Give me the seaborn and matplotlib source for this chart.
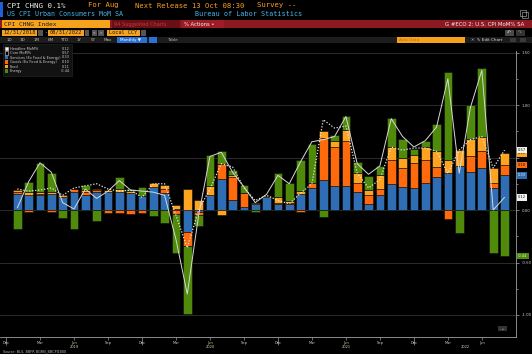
import numpy as np
import pandas as pd
import matplotlib
matplotlib.use("Agg")
import matplotlib.pyplot as plt
from matplotlib.patches import Rectangle
import matplotlib.transforms as mtrans
import seaborn as sns

# monthly contributions to CPI MoM%, Jan 2019 .. Aug 2022
months = pd.date_range("2019-01-01", "2022-08-01", freq="MS")

services = [0.15, 0.14, 0.14, 0.15, 0.12, 0.17, 0.14, 0.17, 0.17, 0.17, 0.16, 0.13,
            0.22, 0.16, 0.01, -0.21, -0.02, 0.14, 0.30, 0.10, 0.03, 0.06, 0.12, 0.06,
            0.06, 0.15, 0.21, 0.29, 0.23, 0.23, 0.17, 0.06, 0.14, 0.25, 0.22, 0.21,
            0.26, 0.31, 0.35, 0.42, 0.36, 0.40, 0.21, 0.33]
goods = [0.02, -0.02, 0.01, -0.02, 0.00, 0.03, 0.03, 0.02, -0.03, -0.03, -0.04, -0.03,
         0.00, 0.04, -0.04, -0.13, -0.03, 0.00, 0.14, 0.21, 0.13, 0.00, 0.00, 0.01,
         0.01, -0.02, 0.05, 0.40, 0.37, 0.43, 0.09, 0.08, 0.06, 0.23, 0.18, 0.24,
         0.22, 0.10, -0.09, 0.00, 0.15, 0.16, 0.05, 0.10]
food = [0.02, 0.03, 0.02, 0.02, 0.02, 0.00, 0.02, 0.01, 0.02, 0.03, 0.02, 0.00,
        0.04, 0.04, 0.04, 0.20, 0.10, 0.09, -0.05, 0.02, 0.00, 0.01, 0.01, 0.05,
        0.02, 0.03, 0.00, 0.06, 0.06, 0.10, 0.09, 0.05, 0.13, 0.12, 0.10, 0.07,
        0.12, 0.15, 0.13, 0.15, 0.17, 0.14, 0.14, 0.11]
energy = [-0.18, 0.10, 0.28, 0.18, -0.08, -0.18, 0.05, -0.10, 0.00, 0.11, 0.02, 0.09,
          -0.06, -0.12, -0.37, -0.65, -0.10, 0.29, 0.12, 0.05, 0.08, -0.02, 0.00, 0.23,
          0.17, 0.30, 0.37, -0.07, 0.05, 0.14, 0.11, 0.13, 0.09, 0.28, 0.18, 0.06,
          0.06, 0.26, 0.83, -0.22, 0.32, 0.65, -0.41, -0.44]
headline = [0.02, 0.27, 0.45, 0.36, 0.07, 0.01, 0.20, 0.11, 0.18, 0.28, 0.19, 0.18,
            0.17, 0.14, -0.28, -0.80, -0.05, 0.51, 0.55, 0.36, 0.22, 0.07, 0.15, 0.33,
            0.25, 0.46, 0.65, 0.67, 0.70, 0.89, 0.44, 0.34, 0.42, 0.87, 0.70, 0.60,
            0.66, 0.79, 1.25, 0.35, 0.98, 1.33, 0.00, 0.12]
core = [0.20, 0.18, 0.19, 0.21, 0.14, 0.21, 0.23, 0.25, 0.20, 0.18, 0.19, 0.12,
        0.25, 0.25, -0.05, -0.36, 0.00, 0.20, 0.44, 0.41, 0.21, 0.09, 0.14, 0.09,
        0.06, 0.16, 0.25, 0.86, 0.78, 0.80, 0.35, 0.21, 0.29, 0.60, 0.57, 0.59,
        0.59, 0.56, 0.35, 0.57, 0.67, 0.70, 0.40, 0.57]

comp_names = ["Services (Ex Food & Energy)", "Goods (Ex Food & Energy)", "Food", "Energy"]
comp_colors = ["#2f6eb5", "#ff6a0d", "#ffa420", "#4f8a0b"]
y_ticks = [-1.0, -0.5, 0.0, 0.5, 1.0, 1.5]
y_ticklabels = ["-1.00", "-0.50", "0.00", "", "1.00", "1.50"]

W, H = 532, 354
sns.set_theme(style="dark", rc={"figure.facecolor": "black", "axes.facecolor": "black",
                                "savefig.facecolor": "black"})
plt.rcParams["font.family"] = ["DejaVu Sans"]

fig = plt.figure(figsize=(W / 100, H / 100), dpi=100)


def fx(px):
    return px / W


def fy(py):
    return 1 - py / H


def box(x0, y0, x1, y1, color, ec="none"):
    fig.add_artist(Rectangle((fx(x0), fy(y1)), (x1 - x0) / W, (y1 - y0) / H,
                             transform=fig.transFigure, facecolor=color,
                             edgecolor=ec, lw=0.4))


def txt(x, y, s, color, size, mono=True, **kw):
    fam = "DejaVu Sans Mono" if mono else "DejaVu Sans"
    fig.text(fx(x), fy(y), s, color=color, fontsize=size, va="center",
             family=fam, **kw)


# ---- header ----
box(0, 2, 3, 17, "#1f5fd8")
txt(7, 5.5, "CPI CHNG 0.1%", "#f0f0f0", 5.4)
txt(88, 5.5, "For Aug", "#ff9f1c", 5.2)
txt(135, 5.5, "Next Release 13 Oct 08:30", "#ff9f1c", 5.2)
txt(257, 5.5, "Survey --", "#ff9f1c", 5.2)
txt(7, 14, "US CPI Urban Consumers MoM SA", "#45b6ec", 4.8)
txt(195, 14, "Bureau of Labor Statistics", "#45b6ec", 4.9)
box(520, 10, 526, 16, "none", ec="#bbbbbb")
box(522, 12, 528, 18, "none", ec="#bbbbbb")

box(0, 19.5, 532, 28.3, "#8c1822")
box(2, 20, 110, 28.3, "#f7a21b")
txt(4, 24.2, "CPI CHNG Index", "#1a1a1a", 4.5)
box(112, 20, 180, 28.3, "#6a0f15")
txt(114, 24.2, "94 Suggested Charts", "#c0393f", 3.6, mono=False)
box(182, 20, 224, 28.3, "#9e1c26")
txt(184, 24.2, "% Actions \u2022", "#f0f0f0", 3.8, mono=False)
txt(524, 24.2, "G #ECO 2: U.S. CPI MoM% SA", "#f0f0f0", 3.9, mono=False, ha="right")

box(2, 29.5, 37, 35.5, "#f7a21b")
txt(3.5, 32.5, "12/31/2018", "#1a1a1a", 3.9)
box(38, 29.5, 43, 35.5, "#555555")
txt(44.5, 32.5, "-", "#cccccc", 3.5)
box(48, 29.5, 84, 35.5, "#f7a21b")
txt(49.5, 32.5, "08/31/2022", "#1a1a1a", 3.9)
box(85, 29.5, 89, 35.5, "#555555")
box(92, 29.5, 97, 35.5, "#555555")
box(98, 29.5, 104, 35.5, "#555555")
txt(93, 32.5, "<", "#dddddd", 3.0)
txt(99.5, 32.5, ">", "#dddddd", 3.0)
box(107, 29.5, 140, 35.5, "#f7a21b")
txt(109, 32.5, "Local CCY", "#1a1a1a", 3.8)
box(141, 29.5, 146, 35.5, "#555555")
box(505, 29.5, 514, 35.5, "#4a4a4a")
box(516, 29.5, 525, 35.5, "#333333")
txt(506.5, 32.5, "\u21b6", "#dddddd", 3.3, mono=False)
txt(517.5, 32.5, "\u21b7", "#888888", 3.3, mono=False)

box(0, 36.7, 532, 42.8, "#1c1c1c")
for lab, xp in zip(["1D", "3D", "1M", "6M", "YTD", "1Y", "5Y", "Max"],
                   [7, 20, 34, 48, 60, 77, 91, 104]):
    txt(xp, 39.8, lab, "#bbbbbb", 3.0, mono=False)
box(117, 37, 147, 42.5, "#2a6fd6")
txt(119.5, 39.8, "Monthly \u25bc", "#ffffff", 3.0, mono=False)
box(149, 37, 157, 42.5, "#2a6fd6")
txt(167, 39.8, "Table", "#bbbbbb", 3.0, mono=False)
box(397, 37, 465, 42.5, "#f7a21b")
txt(399, 39.8, "Add Data", "#b77410", 3.2, mono=False)
txt(470, 39.8, "\u2715", "#bbbbbb", 3.0, mono=False)
txt(477, 39.8, "\u270e Edit Chart", "#dddddd", 3.0, mono=False)
box(510, 37.5, 516, 42, "#3a3a3a")
box(520, 37.5, 526, 42, "#3a3a3a")

# ---- main axes ----
top_px, bot_px, right_px = 51, 337, 516
ax = fig.add_axes([0, fy(bot_px), fx(right_px), (bot_px - top_px) / H])
ax.set_facecolor("black")

n = len(months)
pos = np.arange(n)
pos_base = np.zeros(n)
neg_base = np.zeros(n)
for vals, col in zip([services, goods, food, energy], comp_colors):
    v = np.array(vals)
    bottom = np.where(v >= 0, pos_base, neg_base)
    ax.bar(pos, v, bottom=bottom, width=0.77, color=col, edgecolor="#0b0b0b",
           linewidth=0.4, zorder=2)
    pos_base = pos_base + np.clip(v, 0, None)
    neg_base = neg_base + np.clip(v, None, 0)

df = pd.DataFrame({"pos": pos, "Headline": headline, "Core": core})
sns.lineplot(data=df, x="pos", y="Core", ax=ax, color="#e8e8e8", lw=0.9,
             linestyle=(0, (1, 1.4)), zorder=4)
sns.lineplot(data=df, x="pos", y="Headline", ax=ax, color="#d8d8d8", lw=0.7, zorder=5)
ax.set_xlabel("")
ax.set_ylabel("")

ax.set_xlim(-1 - 6 / 11.33, -1 - 6 / 11.33 + right_px / 11.33)
ax.set_ylim((210 - bot_px) / 105, (210 - top_px) / 105)

for side in ["top", "left"]:
    ax.spines[side].set_visible(False)
for side in ["right", "bottom"]:
    ax.spines[side].set_visible(True)
    ax.spines[side].set_color("#a0a0a0")
    ax.spines[side].set_linewidth(0.6)

ax.yaxis.tick_right()
ax.set_yticks(y_ticks)
ax.set_yticklabels(y_ticklabels)
ax.set_yticks(np.arange(-1.0, 1.51, 0.25), minor=True)
ax.tick_params(axis="y", which="both", right=True, left=False, colors="#aaaaaa",
               labelcolor="#cfcfcf", labelsize=2.8, pad=1.5, width=0.5)
ax.tick_params(axis="y", which="major", length=2.5)
ax.tick_params(axis="y", which="minor", length=1.5)
ax.grid(axis="y", which="major", color="#2c2c2c", lw=0.7, zorder=0)
ax.grid(axis="x", visible=False)

qdates = pd.date_range("2018-12-01", "2022-06-01", freq="3MS")
qpos = (qdates.year - 2019) * 12 + qdates.month - 1
ax.set_xticks(qpos)
ax.set_xticklabels(qdates.strftime("%b"))
ax.tick_params(axis="x", which="major", bottom=True, colors="#9a9a9a",
               labelcolor="#d9cfae", labelsize=2.6, length=2, width=0.5, pad=0.8)
for t, d in zip(ax.xaxis.get_major_ticks(), qdates):
    if d.month == 12:
        t.tick1line.set_markersize(6)

tr = mtrans.blended_transform_factory(ax.transData, ax.transAxes)
for yr in sorted(set(months.year)):
    idx = pos[months.year == yr]
    p = idx[5] if len(idx) == 12 else idx.mean()
    ax.text(p, -0.027, str(yr), transform=tr, ha="center", va="top",
            fontsize=2.6, color="#d9cfae")

# value tags at right axis for the latest month
last = n - 1
tags = []
cum = 0.0
for vals, col in zip([services, goods, food], comp_colors[:3]):
    cum += vals[last]
    tags.append((cum, f"{vals[last]:.2f}", col, "#f0f0f0" if col == comp_colors[0] else "#111111"))
tags.append((energy[last], f"{energy[last]:.2f}", comp_colors[3], "#e8e8e8"))
tags.append((core[last], f"{core[last]:.2f}", "#f2f2f2", "#111111"))
tags.append((headline[last], f"{headline[last]:.2f}", "#f2f2f2", "#111111"))
trr = mtrans.blended_transform_factory(ax.transAxes, ax.transData)
for yv, s, fc, tc in tags:
    ax.text(1.004, yv, s, transform=trr, ha="left", va="center", fontsize=2.6,
            color=tc, clip_on=False, zorder=6,
            bbox=dict(boxstyle="square,pad=0.35", fc=fc, ec="none"))

# zoom control
box(498, 326, 507, 331, "#333333")
txt(499.5, 328.5, "- \u25b8", "#aaaaaa", 2.4, mono=False)

# ---- legend ----
box(3, 44.5, 72, 75.5, "#121212", ec="#2a2a2a")
leg_names = ["Headline MoM%", "Core MoM%"] + comp_names
leg_vals = [headline[last], core[last], services[last], goods[last], food[last], energy[last]]
leg_cols = ["#f0f0f0", "#000000"] + comp_colors
for i, (nm, vv, cc) in enumerate(zip(leg_names, leg_vals, leg_cols)):
    yy = 48.5 + i * 4.5
    box(5, yy - 1.6, 8.2, yy + 1.6, cc, ec="#e0e0e0" if i < 2 else "none")
    txt(10, yy, nm, "#d0d0d0", 2.5, mono=False)
    txt(70, yy, f"{vv:.2f}", "#d0d0d0", 2.5, mono=False, ha="right")

txt(3, 351, "Source: BLS, BBFR BGRN_BBCPI1800", "#bbbbbb", 2.4, mono=False)

fig.savefig("out.png", dpi=100, facecolor="black")
